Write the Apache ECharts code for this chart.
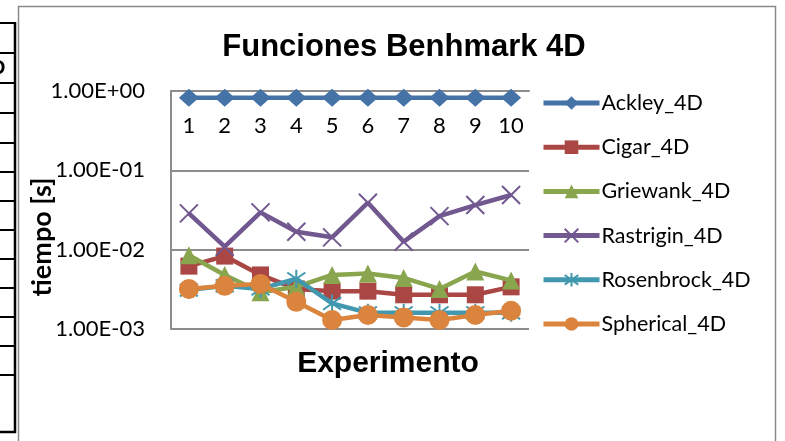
<!DOCTYPE html>
<html>
<head>
<meta charset="utf-8">
<script src="https://cdn.jsdelivr.net/npm/echarts@6/dist/echarts.min.js"></script>
<style>
  html, body { margin: 0; padding: 0; background: #fff; }
  #chart { width: 785px; height: 441px; }
</style>
</head>
<body>
<div id="chart"></div>
<script>
// Experiment numbers along the horizontal axis
const experimentos = ['1', '2', '3', '4', '5', '6', '7', '8', '9', '10'];

// Run time in seconds for each benchmark function (4 dimensions)
const ackley4D     = [0.82, 0.82, 0.82, 0.82, 0.82, 0.82, 0.82, 0.82, 0.82, 0.82];
const cigar4D      = [0.0062, 0.0083, 0.0048, 0.0032, 0.0030, 0.0030, 0.0027, 0.0027, 0.0027, 0.0034];
const griewank4D   = [0.0085, 0.0048, 0.0029, 0.0034, 0.0048, 0.0050, 0.0044, 0.0032, 0.0053, 0.0041];
const rastrigin4D  = [0.0287, 0.0109, 0.0295, 0.0168, 0.0143, 0.0391, 0.0126, 0.0265, 0.0365, 0.0489];
const rosenbrock4D = [0.0031, 0.0035, 0.0032, 0.0043, 0.0021, 0.0016, 0.0016, 0.0016, 0.0016, 0.0016];
const spherical4D  = [0.0032, 0.0035, 0.0037, 0.0022, 0.0013, 0.0015, 0.0014, 0.0013, 0.0015, 0.0017];

// Log-axis tick labels, from 10^-3 up to 10^0
const yTickLabels = ['1.00E-03', '1.00E-02', '1.00E-01', '1.00E+00'];

const seriesNames = ['Ackley_4D', 'Cigar_4D', 'Griewank_4D', 'Rastrigin_4D', 'Rosenbrock_4D', 'Spherical_4D'];
const seriesData = [ackley4D, cigar4D, griewank4D, rastrigin4D, rosenbrock4D, spherical4D];
const colors = ['#4572A7', '#AA4643', '#89A54E', '#71588F', '#4198AF', '#DB843D'];

const crossMark = 'path://M0,0L10,10M10,0L0,10';
const starMark = 'path://M5,0L5,10M0,1.5L10,8.5M10,1.5L0,8.5';
const markers = [
  { symbol: 'diamond', size: [20, 18], border: 0 },
  { symbol: 'rect', size: 17, border: 0 },
  { symbol: 'triangle', size: 18, border: 0 },
  { symbol: crossMark, size: 18, border: 2 },
  { symbol: starMark, size: 18, border: 2 },
  { symbol: 'circle', size: 20, border: 0 }
];

const calibriLike = 'Lato, Carlito, Calibri, sans-serif';
const arialLike = '"Liberation Sans", Arial, sans-serif';

const series = seriesNames.map((name, i) => ({
  name: name,
  type: 'line',
  data: seriesData[i],
  symbol: markers[i].symbol,
  symbolSize: markers[i].size,
  showAllSymbol: true,
  lineStyle: { color: colors[i], width: 4.5 },
  itemStyle: {
    color: colors[i],
    borderColor: colors[i],
    borderWidth: markers[i].border
  },
  emphasis: { disabled: true },
  z: 2 + i
}));

// Worksheet cell borders visible at the left edge
const cellRows = [23, 53, 83, 113, 143, 172, 201, 230, 259, 288, 317, 346, 375];
const sheetGraphics = cellRows.map(y => ({
  type: 'line',
  shape: { x1: 0, y1: y, x2: 15, y2: y },
  style: { stroke: '#000', lineWidth: 2 }
}));
sheetGraphics.push(
  { type: 'line', shape: { x1: 15, y1: 22, x2: 15, y2: 433 }, style: { stroke: '#000', lineWidth: 2.5 } },
  { type: 'line', shape: { x1: 0, y1: 432, x2: 16, y2: 432 }, style: { stroke: '#000', lineWidth: 2.5 } },
  { type: 'text', x: -9, y: 68, style: { text: 'D', font: 'bold 20px ' + arialLike, fill: '#000', textVerticalAlign: 'middle' } }
);

const option = {
  animation: false,
  color: colors,
  title: {
    text: 'Funciones Benhmark 4D',
    left: 399,
    top: 27,
    textAlign: 'center',
    textStyle: { fontFamily: arialLike, fontWeight: 'bold', fontSize: 31, color: '#000' }
  },
  legend: {
    orient: 'vertical',
    left: 541,
    top: 91,
    padding: 0,
    itemWidth: 56,
    itemHeight: 17,
    itemGap: 20.2,
    data: seriesNames,
    lineStyle: { width: 5 },
    textStyle: { fontFamily: calibriLike, fontSize: 21.5, color: '#000', lineHeight: 24, padding: [0, 0, 0, -3] }
  },
  grid: { left: 171, top: 91, width: 358, height: 238 },
  xAxis: {
    type: 'category',
    position: 'top',
    data: experimentos,
    boundaryGap: true,
    axisLine: { show: true, lineStyle: { color: '#8c8c8c', width: 2 } },
    axisTick: { show: false },
    axisLabel: { inside: true, margin: 24, color: '#000', fontFamily: calibriLike, fontSize: 22 },
    splitLine: { show: false }
  },
  yAxis: {
    type: 'log',
    logBase: 10,
    min: 0.001,
    max: 1,
    axisLine: { show: true, lineStyle: { color: '#8c8c8c', width: 2 } },
    axisTick: { show: false },
    axisLabel: {
      margin: 26,
      color: '#000',
      fontFamily: calibriLike,
      fontSize: 22,
      formatter: v => yTickLabels[Math.round(Math.log10(v)) + 3]
    },
    splitLine: { show: true, lineStyle: { color: '#8c8c8c', width: 2 } }
  },
  graphic: [
    // Chart area outline
    {
      type: 'rect',
      shape: { x: 18.5, y: 6.5, width: 757, height: 460 },
      style: { fill: 'none', stroke: '#8a8a8a', lineWidth: 1.5 },
      z: -1
    },
    {
      type: 'text',
      x: 42,
      y: 237,
      rotation: Math.PI / 2,
      style: {
        text: 'tiempo [s]',
        font: 'bold 27px ' + calibriLike,
        fill: '#000',
        textAlign: 'center',
        textVerticalAlign: 'middle'
      }
    },
    {
      type: 'text',
      x: 388,
      y: 364,
      style: {
        text: 'Experimento',
        font: 'bold 30px ' + arialLike,
        fill: '#000',
        textAlign: 'center',
        textVerticalAlign: 'middle'
      }
    }
  ].concat(sheetGraphics),
  series: series
};

const chart = echarts.init(document.getElementById('chart'), null, { renderer: 'canvas' });
chart.setOption(option);
</script>
</body>
</html>
